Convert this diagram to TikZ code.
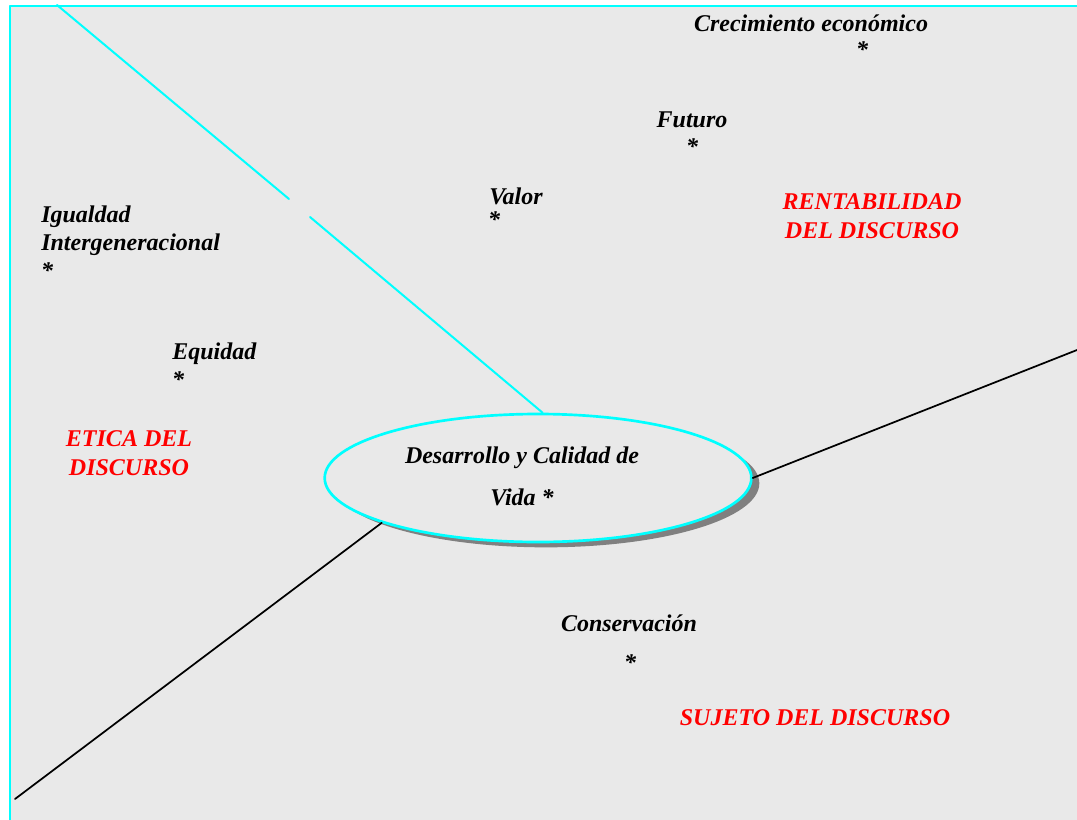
\documentclass[tikz,border=0pt]{standalone}
\usepackage{fontspec}
\setmainfont{Liberation Serif}
\usepackage{xcolor}
\usetikzlibrary{shapes.geometric,shadows}
\definecolor{fondo}{HTML}{E9E9E9}
\definecolor{cian}{HTML}{00FFFF}

\begin{document}
\begin{tikzpicture}[line cap=round,line join=round,x=0.75pt,y=-0.75pt,
  txt/.style={font=\fontsize{18}{21}\selectfont\bfseries\itshape,inner sep=0pt},
  rojo/.style={font=\fontsize{18}{21.75}\selectfont\bfseries\itshape,inner sep=0pt,text=red,align=center},
  eje/.style={black,line width=1.3pt}]
\useasboundingbox (0,0) rectangle (1077,820);
\fill[fondo] (9,5) rectangle (1077,820);
\draw[cian,line width=2.2pt,line cap=butt] (10,820) -- (10,6) -- (1077,6);
\node[ellipse,draw=cian,line width=2pt,fill=fondo,minimum width=320pt,minimum height=96pt,
  drop shadow={shadow xshift=6pt,shadow yshift=-4pt,fill=gray,opacity=1}] (elip) at (538,478) {};
\coordinate (arriba) at (57,5);
\coordinate (corte1) at (289,199);
\coordinate (corte2) at (310,217);
\coordinate (derecha) at (1077,350);
\coordinate (abajo) at (15,799);
\draw[cian,line width=1.5pt] (arriba) -- (corte1);
\draw[cian,line width=1.5pt] (corte2) -- (elip.86);
\draw[eje] (elip.east) -- (derecha);
\draw[eje] (elip.196) -- (abajo);
\node[txt,align=center,font=\fontsize{18}{31.5}\selectfont\bfseries\itshape] (desarrollo) at (522,476) {Desarrollo y Calidad de\\Vida *};
\node[txt] (crecimiento) at (811,23) {Crecimiento económico};
\node[txt] (crecimientoast) at (862,50) {*};
\node[txt] (futuro) at (692,120) {Futuro};
\node[txt] (futuroast) at (692,147) {*};
\node[txt] (valor) at (516,196) {Valor};
\node[txt] (valorast) at (494,220) {*};
\node[txt,anchor=west] (igualdad) at (41,217) {Igualdad};
\node[txt,anchor=west] (intergen) at (41,245) {Intergeneracional};
\node[txt] (igualdadast) at (47,271) {*};
\node[txt,anchor=west] (equidad) at (172,354) {Equidad};
\node[txt] (equidadast) at (178,380) {*};
\node[txt] (conservacion) at (629,623) {Conservación};
\node[txt] (conservacionast) at (630,663) {*};
\node[rojo] (rentabilidad) at (872,216) {RENTABILIDAD\\DEL DISCURSO};
\node[rojo] (etica) at (129,453) {ETICA DEL\\DISCURSO};
\node[rojo] (sujeto) at (815,718) {SUJETO DEL DISCURSO};
\end{tikzpicture}
\end{document}
